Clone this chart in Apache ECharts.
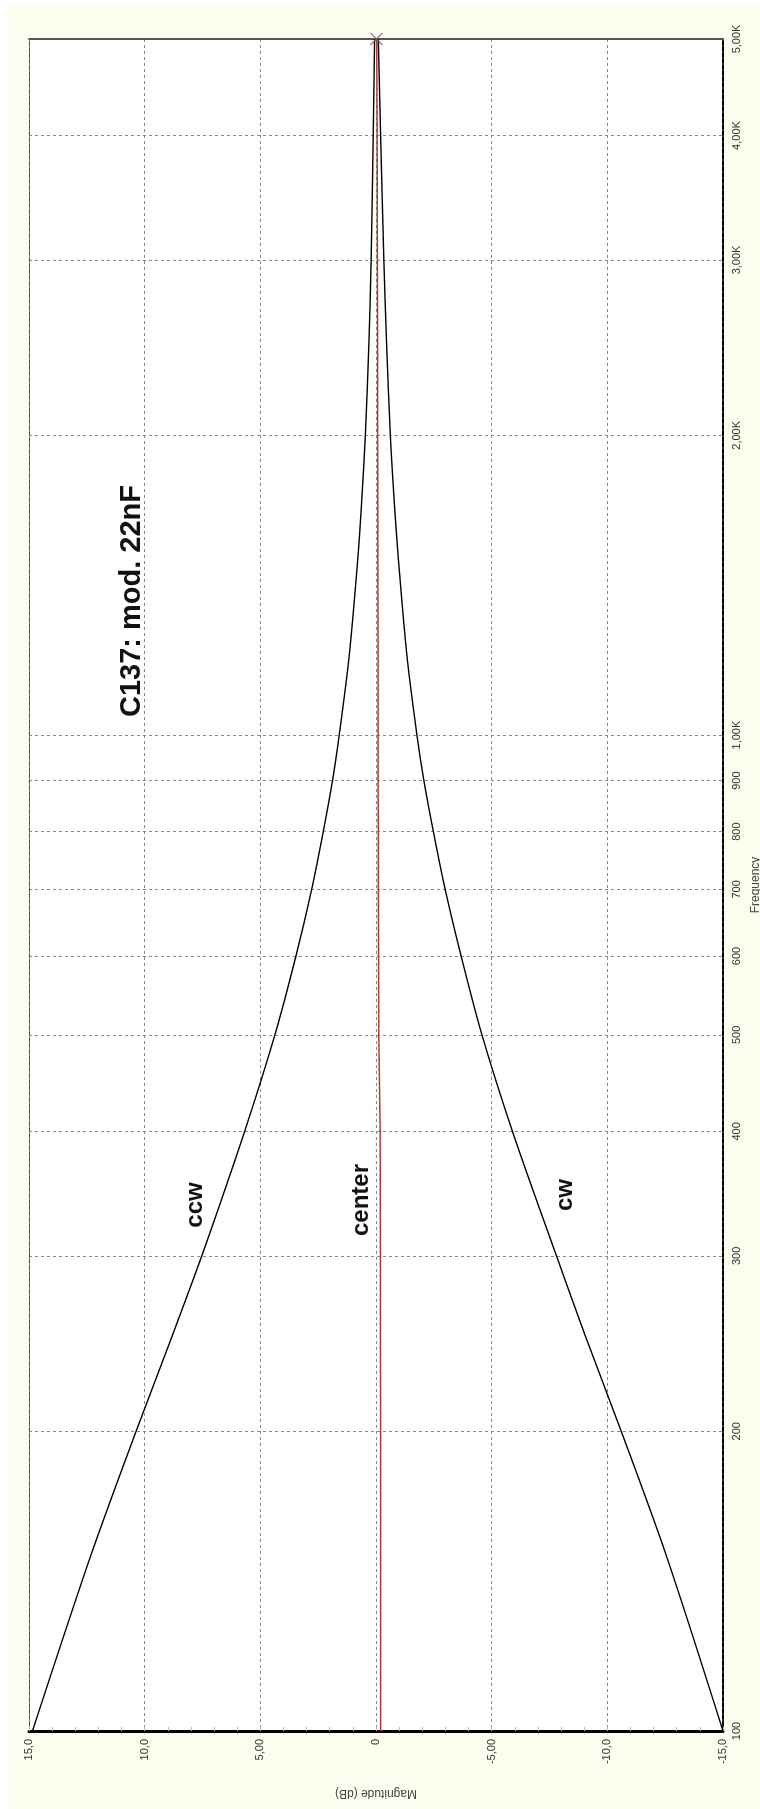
<!DOCTYPE html>
<html>
<head>
<meta charset="utf-8">
<script src="https://cdn.jsdelivr.net/npm/echarts@6/dist/echarts.min.js"></script>
<style>
  html, body { margin: 0; padding: 0; background: #fff; }
  #paper { position: absolute; left: 8px; top: 5px; width: 752px; height: 1804px; background: #fcfcef; }
  #chart { position: absolute; left: 0; top: 0; width: 760px; height: 1809px; }
</style>
</head>
<body>
<div id="paper"></div>
<div id="chart"></div>
<script>
// frequency points (Hz) and magnitude readings (dB)
const freqs = [100, 150, 200, 250, 300, 400, 500, 600, 700, 800, 900, 1000, 1200, 1500, 1700, 2000, 2500, 3000, 4000, 5000]
const ccwDb = [14.85, 12.33, 10.37, 8.79, 7.53, 5.68, 4.37, 3.46, 2.78, 2.28, 1.88, 1.59, 1.16, 0.79, 0.63, 0.46, 0.30, 0.21, 0.12, 0.06]
const cwDb = [-15.0, -12.55, -10.6, -9.03, -7.8, -5.9, -4.58, -3.68, -2.99, -2.48, -2.07, -1.77, -1.34, -0.97, -0.8, -0.62, -0.45, -0.34, -0.2, -0.1]
const centerDb = [-0.2, -0.2, -0.2, -0.19, -0.19, -0.18, -0.12, -0.11, -0.1, -0.1, -0.09, -0.09, -0.09, -0.08, -0.08, -0.07, -0.07, -0.06, -0.05, -0.03]

// axis ticks
const freqTicks = [100, 200, 300, 400, 500, 600, 700, 800, 900, 1000, 2000, 3000, 4000, 5000]
const freqLabels = ['100', '200', '300', '400', '500', '600', '700', '800', '900', '1,00K', '2,00K', '3,00K', '4,00K', '5,00K']
const magTicks = [15, 10, 5, 0, -5, -10, -15]
const magLabels = ['15,0', '10,0', '5,00', '0', '-5,00', '-10,0', '-15,0']

const markerPoint = [[-0.02, 5000]]

const lg = v => Math.log10(v)
const toPts = arr => arr.map((d, i) => [d, lg(freqs[i])])
const freqTickVals = freqTicks.map(lg)

const fmtFreq = v => {
  let best = 0
  freqTickVals.forEach((t, i) => { if (Math.abs(t - v) < Math.abs(freqTickVals[best] - v)) best = i })
  return freqLabels[best]
}
const fmtMag = v => {
  const i = magTicks.indexOf(Math.round(v))
  return i >= 0 ? magLabels[i] : ''
}

const gridDash = { color: '#8a8a8a', width: 1, type: [3, 3] }
const font = 'Liberation Sans, Arial, sans-serif'

const chart = echarts.init(document.getElementById('chart'), null, { renderer: 'canvas' })

chart.setOption({
  backgroundColor: 'transparent',
  animation: false,
  grid: {
    left: 29, right: 37, top: 39, bottom: 78, outerBoundsMode: 'none', containLabel: false,
    show: true, backgroundColor: '#ffffff', borderWidth: 0
  },
  xAxis: [
    {
      type: 'value', min: -15, max: 15, interval: 5, inverse: true, position: 'bottom',
      name: 'Magnitude (dB)', nameLocation: 'middle', nameRotate: 180, nameGap: 56,
      nameTextStyle: { color: '#444', fontSize: 12, fontFamily: font },
      axisLine: { show: true, onZero: false, lineStyle: { color: '#000', width: 3 } },
      axisTick: { show: true, inside: true, length: 4, lineStyle: { color: '#bbb' } },
      minorTick: { show: true, splitNumber: 5, length: 4, lineStyle: { color: '#bbb' } },
      axisLabel: { rotate: 90, margin: 8, color: '#333', fontSize: 11, fontFamily: font, formatter: fmtMag },
      splitLine: { show: true, lineStyle: gridDash }
    },
    {
      type: 'value', min: -15, max: 15, interval: 5, inverse: true, position: 'top',
      axisLine: { show: true, onZero: false, lineStyle: { color: '#555', width: 2 } },
      axisTick: { show: false }, axisLabel: { show: false }, splitLine: { show: false }
    }
  ],
  yAxis: [
    {
      type: 'value', min: lg(100), max: lg(5000), position: 'right',
      name: 'Frequency', nameLocation: 'middle', nameRotate: 90, nameGap: 25,
      nameTextStyle: { color: '#444', fontSize: 12, fontFamily: font },
      axisLine: { show: true, onZero: false, lineStyle: { color: '#000', width: 2, type: [4, 2] } },
      axisTick: { show: false, customValues: freqTickVals },
      axisLabel: { rotate: 90, margin: 8, color: '#333', fontSize: 11, fontFamily: font, customValues: freqTickVals, formatter: fmtFreq },
      splitLine: { show: true, lineStyle: gridDash }
    },
    {
      type: 'value', min: lg(100), max: lg(5000), position: 'left',
      axisLine: { show: true, onZero: false, lineStyle: { color: '#444', width: 1, type: [3, 3] } },
      axisTick: { show: false }, axisLabel: { show: false }, splitLine: { show: false }
    }
  ],
  series: [
    {
      name: 'center', type: 'line', data: toPts(centerDb), showSymbol: false,
      lineStyle: { color: '#b23a2c', width: 1.5 }, z: 3
    },
    {
      name: 'ccw', type: 'line', data: toPts(ccwDb), showSymbol: false, smooth: 0.3,
      lineStyle: { color: '#000', width: 1.4 }, z: 4
    },
    {
      name: 'cw', type: 'line', data: toPts(cwDb), showSymbol: false, smooth: 0.3,
      lineStyle: { color: '#000', width: 1.4 }, z: 4
    },
    {
      name: 'marker', type: 'scatter', data: markerPoint.map(p => [p[0], lg(p[1])]),
      symbol: 'path://M0,0L10,10M10,0L0,10', symbolSize: 12,
      itemStyle: { color: 'transparent', borderColor: '#666', borderWidth: 1.2 }, z: 5
    }
  ],
  graphic: [
    { type: 'text', x: 132, y: 601, rotation: Math.PI / 2,
      style: { text: 'C137: mod. 22nF', font: 'bold 29px ' + font, fill: '#111', align: 'center', verticalAlign: 'middle' } },
    { type: 'text', x: 195, y: 1205, rotation: Math.PI / 2,
      style: { text: 'ccw', font: 'bold 24px ' + font, fill: '#111', align: 'center', verticalAlign: 'middle' } },
    { type: 'text', x: 361, y: 1200, rotation: Math.PI / 2,
      style: { text: 'center', font: 'bold 24px ' + font, fill: '#111', align: 'center', verticalAlign: 'middle' } },
    { type: 'text', x: 565, y: 1195, rotation: Math.PI / 2,
      style: { text: 'cw', font: 'bold 24px ' + font, fill: '#111', align: 'center', verticalAlign: 'middle' } }
  ]
})
</script>
</body>
</html>
